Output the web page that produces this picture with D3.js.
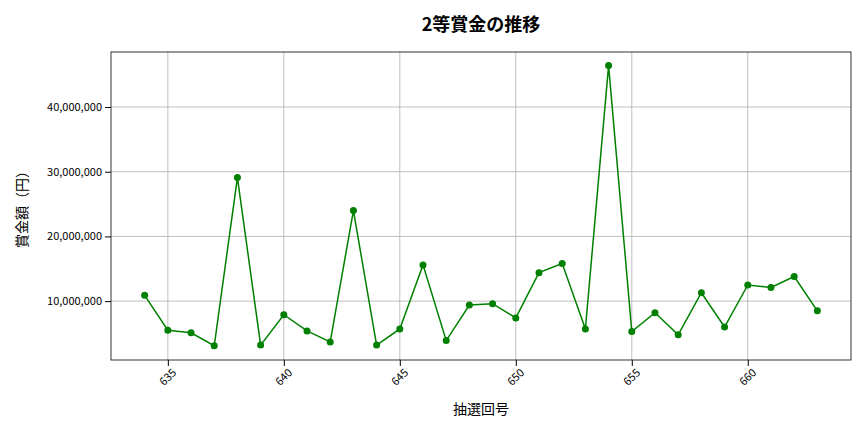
<!DOCTYPE html>
<html><head><meta charset="utf-8">
<script src="https://cdn.jsdelivr.net/npm/d3@7"></script>
<style>body{margin:0;background:#fff}text{font-family:"Noto Sans CJK JP","Noto Sans",sans-serif}</style>
</head><body><svg id="c" width="864" height="432"></svg>
<script>
const draws = d3.range(634, 664);
const prizes = [10900000,5500000,5100000,3100000,29100000,3200000,7900000,5400000,3700000,24000000,3200000,5700000,15600000,3900000,9400000,9600000,7400000,14400000,15800000,5700000,46400000,5300000,8200000,4800000,11300000,6000000,12500000,12100000,13800000,8500000];
const xTicks = [635,640,645,650,655,660];
const yTicks = [10000000,20000000,30000000,40000000];
const svg = d3.select("#c");
const L=111,R=851,T=52,B=360;
const x = d3.scaleLinear().domain([632.55,664.45]).range([L,R]);
const y = d3.scaleLinear().domain([900000,48500000]).range([B,T]);
const g = svg.append("g");
g.selectAll(".gx").data(xTicks).enter().append("line").attr("x1",d=>x(d)).attr("x2",d=>x(d)).attr("y1",T).attr("y2",B).attr("stroke","#b0b0b0").attr("stroke-width",0.8);
g.selectAll(".gy").data(yTicks).enter().append("line").attr("y1",d=>y(d)).attr("y2",d=>y(d)).attr("x1",L).attr("x2",R).attr("stroke","#b0b0b0").attr("stroke-width",0.8);
const xa = svg.append("g").attr("transform",`translate(0,${B})`).call(d3.axisBottom(x).tickValues(xTicks).tickFormat(d3.format("d")).tickSizeOuter(0));
xa.selectAll("text").attr("transform","rotate(-45)").attr("text-anchor","end").attr("dx","-0.3em").attr("dy","0.6em").style("font-size","11px");
const ya = svg.append("g").attr("transform",`translate(${L},0)`).call(d3.axisLeft(y).tickValues(yTicks).tickFormat(d3.format(",")).tickSizeOuter(0));
ya.selectAll("text").style("font-size","11px");
svg.selectAll(".domain").remove();
svg.append("rect").attr("x",L).attr("y",T).attr("width",R-L).attr("height",B-T).attr("fill","none").attr("stroke","#000").attr("stroke-width",0.8);
const line = d3.line().x((d,i)=>x(draws[i])).y(d=>y(d));
svg.append("path").datum(prizes).attr("d",line).attr("fill","none").attr("stroke","green").attr("stroke-width",1.5);
svg.selectAll(".pt").data(prizes).enter().append("circle").attr("cx",(d,i)=>x(draws[i])).attr("cy",d=>y(d)).attr("r",3.5).attr("fill","green");
svg.append("text").attr("x",(L+R)/2).attr("y",31).attr("text-anchor","middle").style("font-size","18px").style("font-weight","bold").text("2等賞金の推移");
svg.append("text").attr("x",(L+R)/2).attr("y",414).attr("text-anchor","middle").style("font-size","14px").text("抽選回号");
svg.append("text").attr("transform",`translate(27,${(T+B)/2}) rotate(-90)`).attr("text-anchor","middle").style("font-size","14px").text("賞金額（円）");
</script></body></html>
